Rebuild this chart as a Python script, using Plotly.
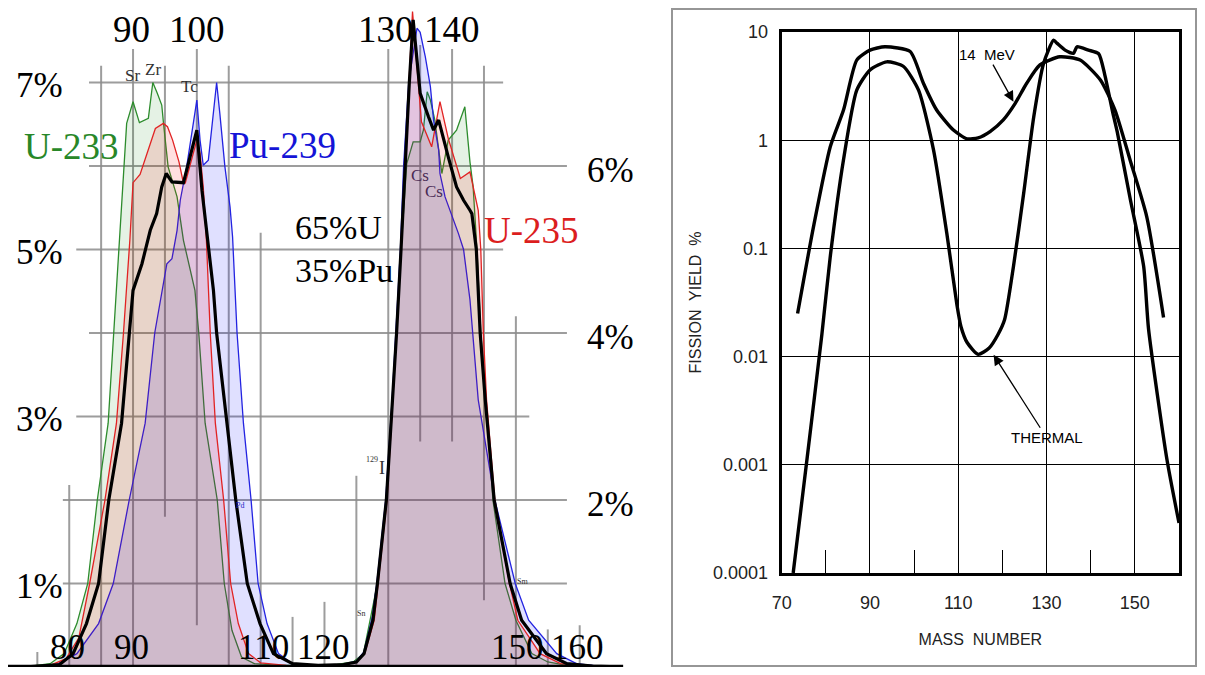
import math
import plotly.graph_objects as go

# ---------------- LEFT PANEL DATA : yield (%) vs mass number ----------------
u233_mass = [74, 77, 79.2, 81.2, 82.9, 84.4, 86.1, 87.0, 87.9, 88.4, 89.0, 90.0, 91.0, 92.4, 93.1, 93.8,
             94.5, 94.75, 95.5, 96.9, 97.9, 99.7, 100.3, 101.3, 103.2, 104.3, 105.5, 107.0, 109, 113, 118,
             122, 124.5, 126.1, 127.1, 128.3, 129.7, 130.7, 131.3, 132.0, 132.9, 133.9, 135.0, 135.5, 136.1,
             136.6, 137.3, 138.4, 139.4, 140.7, 142.0, 142.8, 143.3, 143.9, 144.5, 145.3, 146.4, 148.3,
             150.0, 152.5, 155, 158, 162, 166]
u233_yield = [0.01, 0.04, 0.16, 0.52, 1.0, 2.0, 2.92, 4.0, 5.11, 5.71, 6.51, 6.77, 6.52, 6.57, 7.0, 6.87,
              6.73, 6.53, 5.99, 5.63, 5.11, 4.51, 4.0, 2.92, 2.0, 1.0, 0.44, 0.12, 0.04, 0.02, 0.02,
              0.03, 0.06, 0.16, 0.56, 1.0, 2.0, 3.2, 4.0, 5.0, 6.03, 6.29, 6.29, 6.43, 6.89,
              6.79, 6.55, 5.91, 6.31, 6.43, 6.71, 6.05, 5.75, 5.0, 4.0, 3.2, 2.0, 1.0,
              0.56, 0.16, 0.06, 0.02, 0.01, 0.005]

u235_mass = [74, 77, 79.5, 81.5, 83.2, 85.6, 87.4, 88.5, 89.5, 90.0, 91.1, 92.4, 93.5, 94.75, 95.4, 96.2,
             97.2, 97.8, 98.2, 100.0, 100.5, 101.0, 101.5, 102.1, 102.9, 104.2, 105.3, 106.5, 108.1, 110,
             114, 119, 123, 125, 126.3, 127.8, 128.4, 129.8, 130.7, 131.3, 132.0, 132.6, 133.3, 133.8,
             135.2, 136.8, 138.1, 139.4, 141.3, 142.8, 144.1, 144.5, 144.9, 145.4, 146.7, 149.0, 150.3,
             153.8, 157, 162, 166]
u235_yield = [0.005, 0.02, 0.1, 0.35, 1.0, 2.0, 2.92, 4.0, 5.11, 5.8, 5.9, 6.19, 6.45, 6.51, 6.47, 6.31,
              6.05, 5.83, 5.8, 6.31, 6.15, 5.75, 5.11, 4.0, 2.92, 2.0, 1.0, 0.52, 0.16, 0.05,
              0.02, 0.015, 0.03, 0.06, 0.16, 0.56, 1.0, 2.0, 3.2, 4.0, 5.0, 6.0, 7.0, 7.85,
              6.53, 6.23, 6.77, 6.33, 5.85, 5.93, 5.47, 5.0, 4.0, 3.2, 2.0, 1.0, 0.56,
              0.16, 0.04, 0.01, 0.003]

pu239_mass = [74, 78, 81.2, 82.7, 84.6, 86.9, 89.4, 91.9, 93.4, 95.3, 96.1, 96.9, 97.4, 98.4, 99.45, 100.0,
              100.5, 101.0, 101.8, 103.1, 103.6, 104.4, 105.2, 105.6, 106.3, 107.3, 108.5, 109.6, 111.0,
              112.8, 115, 119, 123, 125, 126.2, 127.5, 128.2, 129.6, 130.6, 131.2, 131.9, 132.4, 133.2,
              134.5, 135.0, 135.8, 136.6, 137.1, 137.9, 138.1, 138.9, 141.0, 141.8, 142.8, 143.2, 144.1,
              146.7, 149.9, 152.0, 156.4, 159.5, 163, 166]
pu239_yield = [0.005, 0.03, 0.16, 0.32, 0.52, 1.0, 2.0, 2.92, 4.0, 4.83, 4.89, 5.23, 5.59, 5.99, 6.51, 6.79,
               6.31, 6.01, 6.07, 7.0, 6.63, 5.99, 5.51, 5.15, 4.0, 2.92, 2.0, 1.0, 0.52,
               0.16, 0.04, 0.02, 0.03, 0.07, 0.18, 0.6, 1.0, 2.0, 3.2, 4.0, 5.0, 6.0, 7.0,
               7.65, 7.6, 7.31, 6.95, 6.55, 6.19, 5.91, 5.63, 5.19, 5.0, 4.4, 4.0, 3.2,
               2.0, 1.0, 0.56, 0.16, 0.04, 0.01, 0.003]

mix_mass = [74, 78.5, 80.6, 82.7, 84.6, 86.2, 88.2, 89.4, 90.0, 91.4, 92.7, 93.7, 94.5, 95.2, 96.1, 97.9,
            100.0, 100.8, 101.5, 102.6, 103.1, 104.7, 106.1, 107.9, 109.9, 112.0, 115, 119, 123, 125,
            126.2, 127.6, 128.3, 129.7, 130.7, 131.3, 132.0, 132.6, 133.3, 133.9, 135.0, 136.3, 137.1,
            137.9, 138.4, 139.4, 140.7, 141.8, 142.8, 143.1, 143.8, 144.4, 145.2, 146.6, 149.1, 150.9,
            154.8, 158, 162, 166]
mix_yield = [0.005, 0.03, 0.16, 0.52, 1.0, 2.0, 2.92, 4.0, 4.51, 4.83, 5.23, 5.43, 5.75, 5.91, 5.81, 5.8,
             6.43, 5.71, 5.23, 4.51, 4.0, 2.92, 2.0, 1.0, 0.52, 0.16, 0.04, 0.02, 0.03, 0.06,
             0.16, 0.56, 1.0, 2.0, 3.2, 4.0, 5.0, 6.0, 7.0, 7.75, 6.87, 6.59, 6.43,
             6.55, 6.39, 6.11, 5.75, 5.59, 5.47, 5.43, 5.0, 4.0, 3.2, 2.0, 1.0, 0.56,
             0.16, 0.04, 0.01, 0.003]

# ---------------- RIGHT PANEL DATA : fission yield % (log) ----------------
thermal_mass = [72.6, 75.7, 79.1, 81.0, 84.0, 87.0, 90.0, 93.8, 97.6, 101.0, 104.4, 107.4, 109.7, 110.6,
                112.0, 114.5, 117.0, 119.0, 120.5, 122.5, 124.8, 127.1, 129.3, 131.6, 132.4, 134.2, 136.1,
                136.9, 139.5, 141.8, 143.2, 145.0, 146.0, 149.0, 152.0, 153.1, 157.3, 160.0]
thermal_yield = [0.0001, 0.0011, 0.016, 0.084, 0.66, 2.9, 4.46, 5.3, 4.8, 2.9, 0.81, 0.138, 0.03, 0.019,
                 0.0135, 0.0105, 0.012, 0.016, 0.022, 0.068, 0.32, 1.65, 5.1, 8.4, 7.85, 6.8, 6.35,
                 7.3, 6.8, 6.3, 4.0, 1.8, 1.2, 0.28, 0.068, 0.018, 0.0011, 0.00029]

mev14_mass = [73.6, 77.2, 81.0, 84.0, 87.0, 90.0, 93.4, 99.1, 102.1, 105.1, 108.9, 112.0, 114.5, 117.2,
              120.2, 122.9, 125.5, 128.5, 133.0, 137.6, 142.2, 145.5, 148.9, 152.7, 156.5]
mev14_yield = [0.025, 0.158, 0.87, 1.9, 5.5, 6.8, 7.3, 6.6, 3.36, 1.9, 1.24, 1.03, 1.05, 1.2,
               1.54, 2.19, 3.36, 4.96, 5.9, 5.5, 3.6, 1.9, 0.66, 0.196, 0.023]

# ---------------- text labels of the left panel ----------------
pct_left_labels = ["7%", "5%", "3%", "1%"]
pct_left_values = [7, 5, 3, 1]
pct_right_labels = ["6%", "4%", "2%"]
pct_right_values = [6, 4, 2]
top_mass_labels = ["90", "100", "130", "140"]
bottom_mass_labels = ["80", "90", "110", "120", "150", "160"]

# ---------------- layout helpers (positions / styles) ----------------
OFF = 8                      # default page margin of the html body
FIG_W, FIG_H = 1205 - 2 * OFF, 675 - 2 * OFF
SERIF = "Liberation Serif"
BIG = 35
PX_PER_MASS = 6.38
PX_PER_PCT = 83.5
top_mass_pos = [89.7, 100.0, 129.65, 140.0]
bottom_mass_pos = [79.8, 89.7, 110.4, 119.8, 150.2, 159.7]
h_grid = [(7, 83.1, 148.0), (6, 83.1, 158.0), (5, 81.1, 148.0), (4, 83.1, 158.0),
          (3, 81.1, 152.1), (2, 79.0, 158.0), (1, 79.0, 158.0)]
v_grid = [(75, 0.18, 0), (80, 2.18, 0), (85, 7.2, 0), (90, 7.4, 0), (95, 7.2, 1.8), (100, 7.4, 0.5),
          (105, 7.2, 0), (110, 5.2, 0), (115, 0.6, 0), (120, 0.78, 0), (125, 2.29, 0), (130, 7.4, 0),
          (135, 7.45, 2.7), (140, 7.4, 2.7), (145, 7.2, 0.8), (150, 4.2, 0), (155, 0.45, 0), (160, 0.5, 0)]

fig = go.Figure()

series = [
    ("U-233", u233_mass, u233_yield, "rgb(45,140,45)", "rgba(0,128,0,0.10)", 1.3),
    ("Pu-239", pu239_mass, pu239_yield, "rgb(35,35,225)", "rgba(0,0,255,0.12)", 1.3),
    ("U-235", u235_mass, u235_yield, "rgb(225,35,35)", "rgba(255,0,0,0.12)", 1.3),
]
for name, xs, ys, lc, fc, lw in series:
    fig.add_trace(go.Scatter(x=xs, y=ys, mode="lines", name=name, fill="tozeroy", fillcolor=fc,
                             line=dict(color=lc, width=lw), xaxis="x", yaxis="y", showlegend=False))
fig.add_trace(go.Scatter(x=mix_mass, y=mix_yield, mode="lines", name="65%U 35%Pu",
                         line=dict(color="black", width=3.2), xaxis="x", yaxis="y", showlegend=False))

fig.add_trace(go.Scatter(x=thermal_mass, y=thermal_yield, mode="lines", name="THERMAL",
                         line=dict(color="black", width=3.4, shape="spline", smoothing=0.6),
                         xaxis="x2", yaxis="y2", showlegend=False))
fig.add_trace(go.Scatter(x=mev14_mass, y=mev14_yield, mode="lines", name="14 MeV",
                         line=dict(color="black", width=3.4, shape="spline", smoothing=0.6),
                         xaxis="x2", yaxis="y2", showlegend=False))

shapes = []
for yv, x0, x1 in h_grid:
    shapes.append(dict(type="line", xref="x", yref="y", x0=x0, x1=x1, y0=yv, y1=yv,
                       line=dict(color="rgba(140,140,140,0.85)", width=2), layer="below"))
for xv, y0, y1 in v_grid:
    shapes.append(dict(type="line", xref="x", yref="y", x0=xv, x1=xv, y0=y0, y1=y1,
                       line=dict(color="rgba(140,140,140,0.85)", width=2), layer="below"))
# baseline of left panel
shapes.append(dict(type="line", xref="x domain", yref="y", x0=0, x1=0.997, y0=0.01, y1=0.01,
                   line=dict(color="black", width=3)))
# frame around right panel image
shapes.append(dict(type="rect", xref="paper", yref="paper", x0=(672 - OFF) / FIG_W, x1=1 - 1 / FIG_W,
                   y0=1 / FIG_H, y1=1 - 1 / FIG_H, line=dict(color="rgb(150,150,150)", width=2)))

ann = []
def txt(x, y, s, size=BIG, color="black", xanchor="center", family=SERIF):
    ann.append(dict(x=x, y=y, xref="x", yref="y", text=s, showarrow=False, xanchor=xanchor,
                    yanchor="middle", font=dict(family=family, size=size, color=color)))

for s, v in zip(pct_left_labels, pct_left_values):
    txt(75.4, v - 0.03, s)
for s, v in zip(pct_right_labels, pct_right_values):
    txt(164.8, v - 0.05, s)
for s, v in zip(top_mass_labels, top_mass_pos):
    txt(v, 7.63, s, size=37)
for s, v in zip(bottom_mass_labels, bottom_mass_pos):
    txt(v, 0.23, s)

txt(80.4, 6.23, "U-233", color="rgb(40,135,40)", size=37)
txt(113.4, 6.25, "Pu-239", color="rgb(20,20,215)", size=37)
txt(152.5, 5.23, "U-235", color="rgb(220,30,30)", size=37)
txt(115.1, 5.26, "65%U", xanchor="left", size=34)
txt(115.1, 4.75, "35%Pu", xanchor="left", size=34)
txt(89.95, 7.08, "Sr", size=17, color="#333")
txt(93.1, 7.16, "Zr", size=17, color="#333")
txt(98.9, 6.95, "Tc", size=17, color="#333")
txt(135.0, 5.89, "Cs", size=17, color="#4a2a55")
txt(137.1, 5.69, "Cs", size=17, color="#4a2a55")
txt(127.4, 2.48, "129", size=8, color="#333")
txt(129.0, 2.38, "I", size=18, color="#333")
txt(125.8, 0.64, "Sn", size=8, color="#333")
txt(151.1, 1.02, "Sm", size=8, color="#333")
txt(106.8, 1.93, "Pd", size=8, color="rgb(40,40,200)")

# right panel annotations
ann.append(dict(x=122.5, y=math.log10(2.27), xref="x2", yref="y2", text="14  MeV", showarrow=True,
                ax=-26, ay=-47, arrowhead=2, arrowsize=1.6, arrowwidth=1.3, arrowcolor="black",
                font=dict(family="Liberation Sans", size=15, color="black")))
ann.append(dict(x=118.0, y=math.log10(0.0104), xref="x2", yref="y2", text="THERMAL", showarrow=True,
                ax=53, ay=83, arrowhead=2, arrowsize=1.6, arrowwidth=1.3, arrowcolor="black",
                font=dict(family="Liberation Sans", size=15, color="black")))

left_x0 = 69.15 + OFF / PX_PER_MASS
left_y_top = (667 - OFF) / PX_PER_PCT

fig.update_layout(
    width=FIG_W, height=FIG_H, margin=dict(l=0, r=0, t=0, b=0, pad=0, autoexpand=False),
    paper_bgcolor="white", plot_bgcolor="white",
    xaxis=dict(domain=[0, (625 - OFF) / FIG_W], range=[left_x0, 167.1], visible=False,
               fixedrange=True, automargin=False),
    yaxis=dict(domain=[0, 1], range=[0, left_y_top], visible=False, fixedrange=True,
               automargin=False),
    xaxis2=dict(domain=[(781.7 - OFF) / FIG_W, (1179 - OFF) / FIG_W], range=[70, 160], anchor="y2",
                automargin=False,
                tickmode="array", tickvals=[70, 90, 110, 130, 150], ticks="", ticklabelstandoff=11,
                showgrid=True, gridcolor="black", gridwidth=1.4,
                showline=True, linecolor="black", linewidth=3, mirror=True, zeroline=False,
                minor=dict(tickmode="array", tickvals=[80, 100, 120, 140], ticks="inside",
                           ticklen=23, tickwidth=1.4, tickcolor="black", showgrid=False),
                tickfont=dict(family="Liberation Sans", size=18, color="#222"),
                title=dict(text="MASS  NUMBER", standoff=23,
                           font=dict(family="Liberation Sans", size=16, color="#222"))),
    yaxis2=dict(domain=[1 - (573 - OFF) / FIG_H, 1 - (32 - OFF) / FIG_H], type="log", range=[-4, 1],
                anchor="x2", automargin=False,
                tickmode="array", tickvals=[0.0001, 0.001, 0.01, 0.1, 1, 10],
                ticktext=["0.0001", "0.001", "0.01", "0.1", "1", "10"], ticks="",
                ticklabelstandoff=7,
                showgrid=True, gridcolor="black", gridwidth=1.4,
                showline=True, linecolor="black", linewidth=3, mirror=True, zeroline=False,
                tickfont=dict(family="Liberation Sans", size=18, color="#222"),
                title=dict(text="FISSION  YIELD  %", standoff=8,
                           font=dict(family="Liberation Sans", size=16, color="#222"))),
    shapes=shapes, annotations=ann, showlegend=False,
)

fig.write_html("out.html")
